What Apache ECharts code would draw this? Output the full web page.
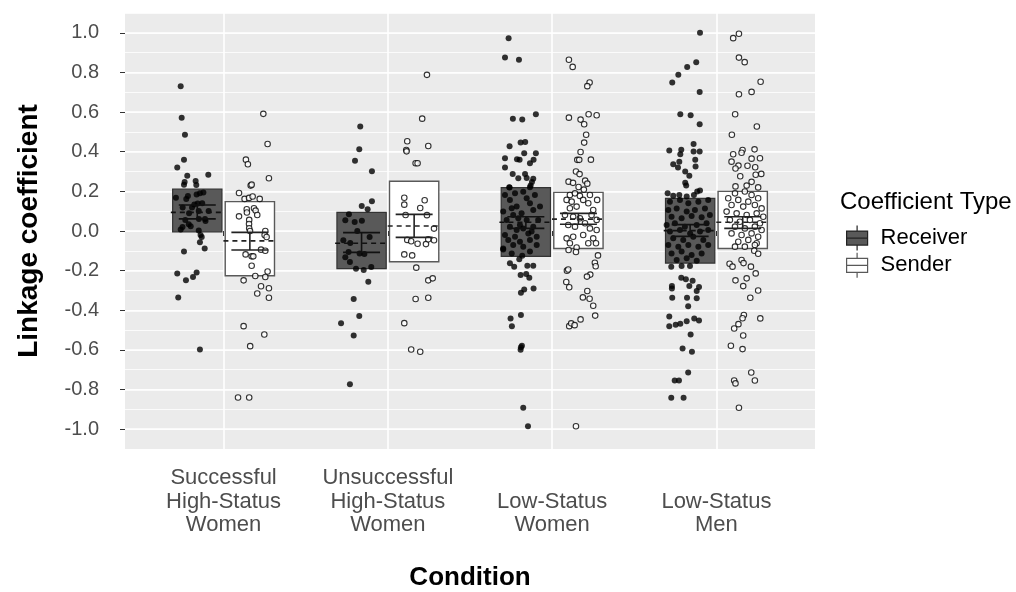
<!DOCTYPE html>
<html><head><meta charset="utf-8">
<script src="https://cdn.jsdelivr.net/npm/echarts@6/dist/echarts.min.js"></script>
<style>html,body{margin:0;padding:0;background:#fff}#chart{width:1016px;height:592px}</style>
</head><body><div id="chart"></div>
<script>
// ---------- data ----------
const conditions = ['Successful\nHigh-Status\nWomen', 'Unsuccessful\nHigh-Status\nWomen', 'Low-Status\nWomen', 'Low-Status\nMen'];
const coefficientTypes = ['Receiver', 'Sender'];
const yTicks = [-1.0, -0.8, -0.6, -0.4, -0.2, 0.0, 0.2, 0.4, 0.6, 0.8, 1.0];
const xTicks = [0, 1, 2, 3];

// box extents, mean (dashed) and error bar per condition
const receiverBoxLow  = [-0.005, -0.190, -0.128, -0.162];
const receiverBoxHigh = [0.212, 0.094, 0.219, 0.165];
const receiverMean    = [0.094, -0.062, 0.044, 0.002];
const receiverErrLow  = [0.061, -0.108, 0.013, -0.027];
const receiverErrHigh = [0.131, -0.008, 0.072, 0.032];
const senderBoxLow  = [-0.226, -0.155, -0.088, -0.088];
const senderBoxHigh = [0.148, 0.251, 0.195, 0.200];
const senderMean    = [-0.050, 0.025, 0.060, 0.044];
const senderErrLow  = [-0.096, -0.032, 0.034, 0.013];
const senderErrHigh = [-0.007, 0.084, 0.089, 0.072];

// individual observations: [jitter (x offset), coefficient]
const receiverSuccessfulHS = [[-0.101,0.731],[-0.095,0.572],[-0.075,0.486],[-0.081,0.359],[-0.122,0.32],[-0.061,0.279],[0.067,0.284],[-0.077,0.247],[-0.081,0.234],[-0.010,0.252],[-0.006,0.232],[-0.13,0.168],[-0.067,0.162],[-0.057,0.177],[-0.004,0.184],[0.016,0.19],[0.037,0.194],[-0.089,0.118],[-0.032,0.118],[-0.018,0.134],[0.002,0.139],[0.069,0.101],[0.009,0.101],[-0.073,0.056],[0.01,0.061],[0.047,0.061],[-0.052,0.034],[-0.04,0.024],[-0.101,0.007],[0.009,0.002],[0.027,-0.03],[0.016,-0.057],[0.045,-0.088],[-0.081,-0.104],[-0.122,-0.214],[-0.069,-0.249],[-0.026,-0.232],[-0.004,-0.209],[-0.116,-0.335],[0.016,-0.598],[0.03,0.14],[-0.05,0.09],[0.05,0.05],[-0.09,0.02],[0.02,-0.02]];
const senderSuccessfulHS = [[0.082,0.591],[0.108,0.439],[-0.024,0.36],[-0.012,0.337],[0.116,0.266],[0.005,0.229],[0.011,0.234],[-0.066,0.192],[-0.032,0.162],[-0.005,0.167],[0.017,0.174],[0.06,0.162],[-0.019,0.11],[-0.018,0.093],[0.025,0.115],[0.035,0.103],[0.045,0.081],[-0.066,0.074],[-0.004,0.056],[-0.005,0.035],[-0.004,0.014],[0.001,0.0],[0.094,0.0],[0.09,-0.02],[0.102,-0.03],[0.068,-0.094],[0.094,-0.1],[-0.026,-0.118],[0.011,-0.128],[0.021,-0.128],[0.011,-0.175],[0.108,-0.204],[-0.038,-0.249],[0.033,-0.227],[0.094,-0.232],[0.068,-0.279],[0.116,-0.289],[0.045,-0.315],[0.116,-0.337],[-0.038,-0.48],[0.088,-0.522],[0.002,-0.581],[-0.072,-0.84],[-0.004,-0.84]];
const receiverUnsuccessfulHS = [[-0.008,0.527],[-0.014,0.412],[-0.04,0.354],[0.063,0.301],[0.001,0.126],[0.063,0.15],[0.037,0.11],[-0.077,0.084],[-0.099,0.054],[-0.042,0.046],[0.002,0.052],[-0.026,0.0],[-0.111,-0.047],[0.049,-0.03],[-0.069,-0.061],[-0.079,-0.106],[-0.012,-0.113],[0.017,-0.116],[-0.099,-0.133],[-0.071,-0.157],[-0.034,-0.19],[0.013,-0.197],[0.059,-0.182],[0.041,-0.256],[-0.048,-0.343],[-0.014,-0.429],[-0.125,-0.465],[-0.048,-0.527],[-0.071,-0.773]];
const senderUnsuccessfulHS = [[0.078,0.788],[0.049,0.567],[-0.042,0.453],[0.086,0.429],[-0.048,0.409],[-0.046,0.402],[0.009,0.342],[0.021,0.342],[-0.06,0.168],[0.064,0.155],[-0.06,0.133],[0.037,0.116],[-0.052,0.081],[0.078,0.08],[0.121,0.012],[-0.042,-0.045],[-0.018,-0.052],[0.021,-0.064],[0.072,-0.066],[0.086,-0.042],[0.121,-0.047],[-0.06,-0.118],[-0.012,-0.123],[0.013,-0.185],[0.086,-0.249],[0.113,-0.239],[0.009,-0.343],[0.086,-0.337],[-0.06,-0.465],[-0.018,-0.598],[0.037,-0.609]];
const receiverLowStatusWomen = [[-0.105,0.973],[-0.127,0.875],[-0.042,0.864],[-0.079,0.567],[-0.022,0.562],[0.061,0.589],[-0.032,0.446],[-0.004,0.449],[-0.099,0.428],[-0.127,0.367],[-0.054,0.362],[-0.038,0.359],[-0.01,0.392],[0.061,0.392],[0.025,0.342],[0.047,0.359],[-0.127,0.32],[-0.08,0.288],[-0.046,0.266],[-0.005,0.288],[0.005,0.268],[0.045,0.264],[-0.099,0.219],[0.029,0.229],[0.037,0.247],[-0.138,-0.093],[-0.097,-0.163],[-0.071,-0.18],[-0.04,-0.143],[-0.022,-0.125],[0.009,-0.175],[0.045,-0.175],[-0.032,-0.222],[0.021,-0.236],[0.002,-0.217],[-0.03,-0.312],[-0.01,-0.295],[0.047,-0.29],[-0.093,-0.441],[-0.03,-0.424],[-0.085,-0.48],[-0.03,-0.587],[-0.024,-0.579],[-0.032,-0.599],[-0.016,-0.892],[0.013,-0.985],[-0.101,0.221],[0.025,0.221],[-0.127,0.182],[-0.066,0.19],[-0.016,0.198],[0.055,0.182],[-0.097,0.157],[0.005,0.165],[-0.086,0.115],[-0.056,0.123],[0.025,0.14],[-0.138,0.098],[-0.077,0.081],[-0.026,0.089],[0.045,0.106],[-0.117,0.056],[-0.046,0.064],[0.005,0.056],[0.075,0.056],[-0.097,0.022],[-0.036,0.03],[-0.016,0.013],[0.045,0.022],[-0.127,-0.02],[-0.066,-0.029],[0.015,-0.012],[0.066,-0.029],[-0.107,-0.045],[-0.036,-0.054],[0.025,-0.045],[-0.138,-0.088],[-0.077,-0.071],[-0.016,-0.079],[0.066,-0.071],[-0.086,-0.113],[0.025,-0.104],[-0.056,0.005],[0.035,-0.003],[0.086,0.123]];
const senderLowStatusWomen = [[-0.058,0.864],[-0.035,0.828],[0.068,0.749],[0.054,0.731],[-0.058,0.572],[0.013,0.562],[0.035,0.539],[0.062,0.589],[0.111,0.584],[0.047,0.486],[0.035,0.446],[0.013,0.399],[-0.007,0.359],[0.005,0.359],[0.076,0.36],[-0.015,0.3],[0.007,0.287],[-0.06,0.249],[-0.033,0.243],[0.041,0.254],[0.054,0.239],[0.001,0.222],[0.033,0.209],[-0.052,0.182],[-0.021,0.19],[0.009,0.177],[0.07,0.182],[-0.072,0.157],[-0.041,0.148],[0.029,0.157],[0.114,0.157],[-0.052,0.115],[-0.011,0.123],[0.06,0.14],[0.09,0.106],[-0.082,0.081],[-0.032,0.072],[0.009,0.064],[0.08,0.081],[0.111,0.056],[-0.062,0.03],[-0.021,0.022],[0.04,0.039],[0.07,0.013],[0.111,0.005],[-0.072,-0.037],[-0.032,-0.029],[0.029,-0.02],[0.09,-0.037],[-0.052,-0.062],[0.06,-0.062],[0.107,-0.062],[-0.011,-0.083],[-0.06,-0.096],[-0.015,-0.106],[0.119,-0.123],[0.1,-0.16],[0.105,-0.178],[-0.07,-0.2],[-0.062,-0.194],[0.072,-0.22],[0.052,-0.23],[-0.074,-0.257],[-0.056,-0.284],[0.054,-0.303],[0.027,-0.335],[0.068,-0.342],[0.09,-0.377],[0.102,-0.427],[-0.056,-0.48],[-0.044,-0.466],[-0.023,-0.475],[0.013,-0.446],[-0.015,-0.985]];
const receiverLowStatusMen = [[0.06,1.0],[0.037,0.852],[-0.018,0.828],[-0.072,0.788],[-0.109,0.749],[0.058,0.702],[-0.06,0.589],[0.003,0.584],[0.058,0.539],[-0.127,0.406],[-0.054,0.41],[-0.06,0.387],[0.021,0.439],[0.021,0.401],[0.058,0.401],[-0.103,0.337],[-0.066,0.35],[-0.074,0.32],[0.031,0.359],[0.033,0.325],[-0.03,0.3],[-0.005,0.279],[-0.03,0.244],[-0.024,0.229],[-0.137,0.19],[-0.103,0.178],[-0.066,0.182],[-0.021,0.174],[0.023,0.182],[0.043,0.199],[0.06,0.204],[-0.115,-0.18],[-0.052,-0.177],[-0.001,-0.177],[-0.054,-0.236],[-0.026,-0.244],[0.015,-0.251],[-0.111,-0.278],[-0.111,-0.29],[-0.005,-0.278],[0.04,-0.303],[0.054,-0.283],[-0.109,-0.337],[-0.019,-0.337],[0.04,-0.339],[-0.012,-0.38],[-0.127,-0.431],[-0.127,-0.48],[-0.088,-0.473],[-0.06,-0.468],[-0.021,-0.455],[0.025,-0.441],[0.054,-0.451],[0.003,-0.522],[-0.046,-0.593],[0.011,-0.609],[-0.012,-0.714],[-0.094,-0.754],[-0.068,-0.754],[-0.115,-0.841],[-0.04,-0.841],[-0.123,0.148],[-0.062,0.157],[-0.011,0.14],[0.05,0.148],[0.11,0.157],[-0.133,0.106],[-0.082,0.114],[-0.021,0.098],[0.029,0.106],[0.09,0.114],[-0.113,0.072],[-0.052,0.064],[0.009,0.076],[0.07,0.069],[0.12,0.081],[-0.143,0.03],[-0.093,0.039],[-0.032,0.022],[0.04,0.03],[0.1,0.039],[-0.123,-0.003],[-0.062,0.005],[0.0,-0.012],[0.06,-0.003],[0.11,0.005],[-0.103,-0.037],[-0.042,-0.045],[0.019,-0.029],[0.08,-0.045],[-0.133,-0.071],[-0.072,-0.079],[-0.011,-0.071],[0.05,-0.079],[0.11,-0.071],[-0.113,-0.113],[-0.052,-0.104],[0.009,-0.121],[0.07,-0.113],[-0.082,-0.146],[-0.021,-0.138],[0.04,-0.15]];
const senderLowStatusMen = [[-0.023,0.995],[-0.058,0.973],[-0.023,0.875],[0.012,0.852],[0.109,0.753],[0.054,0.702],[-0.023,0.69],[-0.046,0.589],[0.086,0.527],[-0.066,0.486],[-0.001,0.409],[0.072,0.412],[-0.058,0.387],[-0.007,0.395],[0.054,0.365],[0.105,0.367],[-0.068,0.35],[-0.026,0.33],[0.029,0.329],[0.076,0.322],[0.113,0.288],[-0.044,0.315],[-0.015,0.276],[0.054,0.248],[-0.044,0.225],[0.024,0.229],[0.094,0.22],[0.079,0.284],[-0.047,0.19],[0.013,0.199],[0.054,0.182],[-0.088,0.165],[-0.027,0.157],[0.034,0.148],[0.094,0.165],[-0.068,0.131],[0.003,0.123],[0.074,0.131],[0.115,0.114],[-0.098,0.098],[-0.037,0.089],[0.024,0.081],[0.085,0.089],[0.125,0.072],[-0.078,0.056],[-0.017,0.047],[0.044,0.056],[0.105,0.039],[-0.047,0.022],[0.013,0.013],[0.074,0.022],[0.115,0.005],[-0.068,-0.012],[-0.007,-0.02],[0.054,-0.012],[0.094,-0.029],[-0.027,-0.054],[0.034,-0.045],[0.085,-0.062],[-0.047,-0.079],[0.013,-0.079],[0.074,-0.071],[0.07,-0.1],[0.094,-0.115],[-0.08,-0.165],[-0.062,-0.18],[-0.007,-0.146],[0.005,-0.162],[0.05,-0.18],[0.079,-0.214],[-0.044,-0.249],[0.024,-0.239],[0.003,-0.278],[0.094,-0.3],[0.046,-0.337],[0.007,-0.424],[-0.001,-0.44],[-0.026,-0.47],[-0.052,-0.492],[0.107,-0.441],[0.003,-0.527],[-0.072,-0.579],[-0.001,-0.596],[0.052,-0.714],[-0.052,-0.754],[-0.044,-0.769],[0.074,-0.754],[-0.023,-0.892]];

const receiverPoints = [receiverSuccessfulHS, receiverUnsuccessfulHS, receiverLowStatusWomen, receiverLowStatusMen];
const senderPoints = [senderSuccessfulHS, senderUnsuccessfulHS, senderLowStatusWomen, senderLowStatusMen];

// ---------- layout constants ----------
const FONT = '"Liberation Sans", Arial, sans-serif';
const DODGE = 0.16, BOX_W = 0.3, DASH_W = 0.31, CAP_W = 0.225;

function boxData(lo, hi, off) { return lo.map((v, i) => [i + off, v, hi[i]]); }
function sumData(m, lo, hi, off) { return m.map((v, i) => [i + off, v, lo[i], hi[i]]); }
function pointData(groups, off) {
  const out = [];
  groups.forEach((g, i) => g.forEach(p => out.push([i + off + p[0], p[1]])));
  return out;
}
function boxRender(fill, stroke, lw) {
  return function (params, api) {
    const x = api.value(0), lo = api.value(1), hi = api.value(2);
    const a = api.coord([x - BOX_W / 2, hi]);
    const b = api.coord([x + BOX_W / 2, lo]);
    return { type: 'rect', shape: { x: a[0], y: a[1], width: b[0] - a[0], height: b[1] - a[1] },
      style: { fill: fill, stroke: stroke, lineWidth: lw } };
  };
}
function sumRender(color) {
  return function (params, api) {
    const x = api.value(0), m = api.value(1), lo = api.value(2), hi = api.value(3);
    const dl = api.coord([x - DASH_W / 2 - 0.006, m]), dr = api.coord([x + DASH_W / 2 - 0.006, m]);
    const vt = api.coord([x, hi]), vb = api.coord([x, lo]);
    const cl = api.coord([x - CAP_W / 2, hi]), cr = api.coord([x + CAP_W / 2, hi]);
    const bl = api.coord([x - CAP_W / 2, lo]), br = api.coord([x + CAP_W / 2, lo]);
    const ls = { stroke: color, lineWidth: 1.6 };
    return { type: 'group', children: [
      { type: 'line', shape: { x1: dl[0], y1: dl[1], x2: dr[0], y2: dr[1] }, style: Object.assign({ lineDash: [5, 4] }, ls) },
      { type: 'line', shape: { x1: vt[0], y1: vt[1], x2: vb[0], y2: vb[1] }, style: ls },
      { type: 'line', shape: { x1: cl[0], y1: cl[1], x2: cr[0], y2: cr[1] }, style: ls },
      { type: 'line', shape: { x1: bl[0], y1: bl[1], x2: br[0], y2: br[1] }, style: ls }
    ] };
  };
}

const keyIcon = 'path://M10.5,0 L10.5,5.5 M0,5.5 L21,5.5 L21,19.5 L0,19.5 Z M0,12.5 L21,12.5 M10.5,19.5 L10.5,25';

const chart = echarts.init(document.getElementById('chart'), null, { renderer: 'canvas' });
chart.setOption({
  animation: false,
  backgroundColor: '#ffffff',
  textStyle: { fontFamily: FONT },
  title: { text: 'Coefficient Type', left: 835, top: 185,
    textStyle: { fontSize: 24, fontWeight: 'normal', color: '#000', fontFamily: FONT } },
  legend: {
    orient: 'vertical', left: 841, top: 220, itemWidth: 21, itemHeight: 25, itemGap: 1,
    selectedMode: false,
    textStyle: { fontSize: 22, color: '#000', fontFamily: FONT, padding: [0, 0, 0, 8] },
    data: [
      { name: coefficientTypes[0], icon: keyIcon, itemStyle: { color: '#595959', borderColor: '#222', borderWidth: 1.2 } },
      { name: coefficientTypes[1], icon: keyIcon, itemStyle: { color: '#ffffff', borderColor: '#595959', borderWidth: 1.2 } }
    ]
  },
  grid: { left: 125, right: 201, top: 13, bottom: 143, show: true, backgroundColor: '#EBEBEB', borderWidth: 0,
    containLabel: false, outerBoundsMode: 'none' },
  xAxis: {
    type: 'value', min: -0.6, max: 3.6,
    axisLine: { show: false },
    axisTick: { show: true, customValues: xTicks, length: 5, lineStyle: { color: '#333', width: 1 } },
    axisLabel: { customValues: xTicks, formatter: v => conditions[Math.round(v)], fontSize: 22, color: '#4D4D4D',
      lineHeight: 23.5, verticalAlign: 'bottom', align: 'center', margin: 88, fontFamily: FONT },
    splitLine: { show: true, lineStyle: { color: '#ffffff', width: 1.6 } },
    name: 'Condition', nameLocation: 'middle', nameGap: 116,
    nameTextStyle: { fontSize: 26, fontWeight: 'bold', color: '#000', fontFamily: FONT }
  },
  yAxis: [
    { type: 'value', min: -1.1, max: 1.1, interval: 0.1,
      axisLine: { show: false }, axisTick: { show: false }, axisLabel: { show: false },
      splitLine: { show: true, lineStyle: { color: '#ffffff', width: 0.8 } } },
    { type: 'value', min: -1.1, max: 1.1, position: 'left',
      axisLine: { show: false },
      axisTick: { show: true, customValues: yTicks, length: 5, lineStyle: { color: '#333', width: 1 } },
      axisLabel: { customValues: yTicks, formatter: v => v.toFixed(1), fontSize: 20, color: '#4D4D4D', margin: 26, fontFamily: FONT },
      splitLine: { show: true, lineStyle: { color: '#ffffff', width: 1.6 } },
      name: 'Linkage coefficient', nameLocation: 'middle', nameGap: 82, nameRotate: 90,
      nameTextStyle: { fontSize: 28, fontWeight: 'bold', color: '#000', fontFamily: FONT } }
  ],
  series: [
    { type: 'custom', name: coefficientTypes[0], z: 1, renderItem: boxRender('#595959', '#333333', 1.2),
      encode: { x: 0, y: [1, 2] }, data: boxData(receiverBoxLow, receiverBoxHigh, -DODGE) },
    { type: 'custom', name: coefficientTypes[1], z: 1, renderItem: boxRender('#ffffff', '#595959', 1.4),
      encode: { x: 0, y: [1, 2] }, data: boxData(senderBoxLow, senderBoxHigh, DODGE) },
    { type: 'scatter', name: coefficientTypes[0], z: 2, symbol: 'circle', symbolSize: 6,
      itemStyle: { color: '#000' }, data: pointData(receiverPoints, -DODGE) },
    { type: 'scatter', name: coefficientTypes[1], z: 2, symbol: 'circle', symbolSize: 5.5,
      itemStyle: { color: '#fff', borderColor: '#000', borderWidth: 1.1 }, data: pointData(senderPoints, DODGE) },
    { type: 'custom', name: coefficientTypes[0], z: 3, renderItem: sumRender('#111'),
      encode: { x: 0, y: [1, 2, 3] }, data: sumData(receiverMean, receiverErrLow, receiverErrHigh, -DODGE) },
    { type: 'custom', name: coefficientTypes[1], z: 3, renderItem: sumRender('#222'),
      encode: { x: 0, y: [1, 2, 3] }, data: sumData(senderMean, senderErrLow, senderErrHigh, DODGE) }
  ]
});
</script></body></html>
